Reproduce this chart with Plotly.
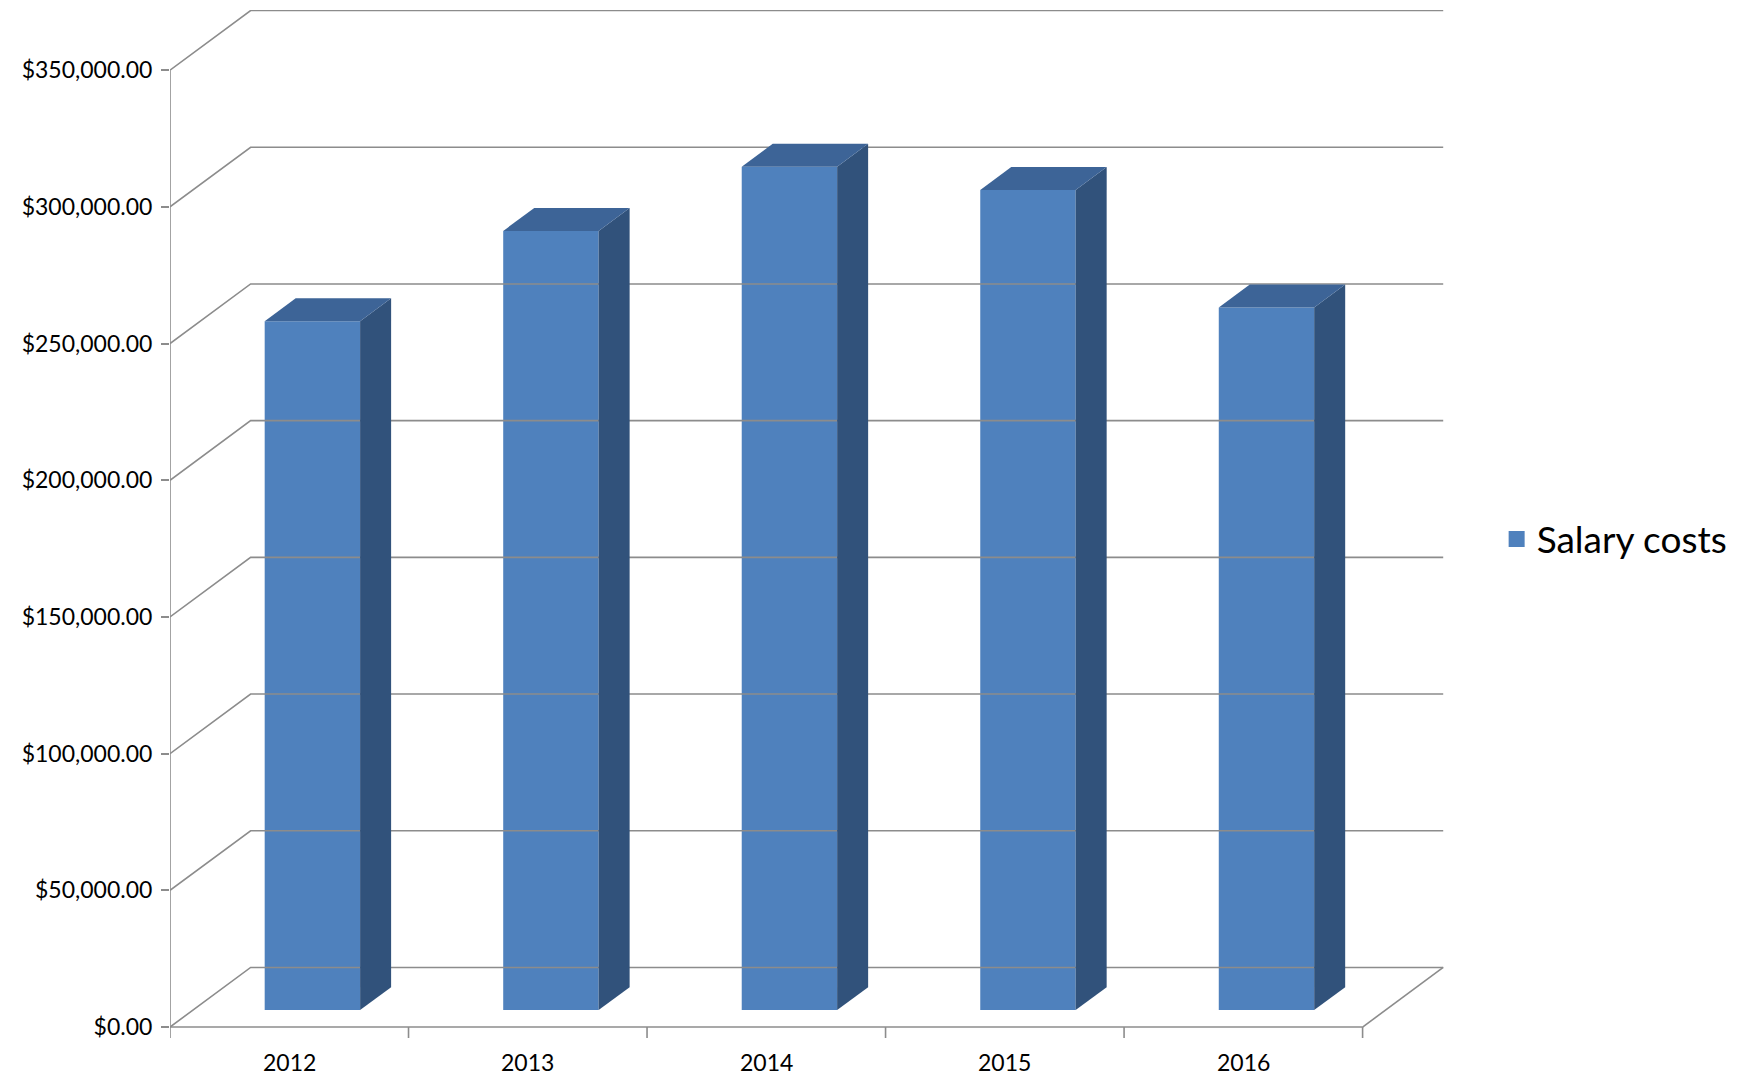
import plotly.graph_objects as go

years = ["2012", "2013", "2014", "2015", "2016"]
salary = [252000, 285000, 308500, 300000, 257000]
tick_vals = [0, 50000, 100000, 150000, 200000, 250000, 300000, 350000]

# oblique 3D look: depth offsets in axis units
DX, DY = 0.338, 21800      # full floor depth
BX, BY = 0.097, 6200       # where bar fronts sit
SX, SY = 0.13, 8400        # bar depth
W = 0.4
grid = "#8c8c8c"

fig = go.Figure()

def line(xs, ys, color=grid, width=1.6):
    fig.add_trace(go.Scatter(x=xs, y=ys, mode="lines", hoverinfo="skip",
                             line=dict(color=color, width=width), showlegend=False))

# back wall gridlines and diagonals
for v in tick_vals:
    line([0, DX, 5 + DX], [v, v + DY, v + DY])
line([5, 5 + DX], [0, DY])
line([0, 5], [0, 0])
line([0, 0], [0, 350000])
for i in range(6):
    line([i, i], [0, -4000])

# bars: front face
xs = [i + BX + 0.5 for i in range(5)]
fig.add_trace(go.Bar(x=xs, y=salary, base=[BY] * 5, width=W,
                     marker=dict(color="#4F81BD", line=dict(width=0)),
                     showlegend=False, hoverinfo="skip"))
for x, v in zip(xs, salary):
    x0, x1, top = x - W / 2, x + W / 2, BY + v
    fig.add_trace(go.Scatter(x=[x1, x1 + SX, x1 + SX, x1, x1], y=[BY, BY + SY, top + SY, top, BY],
                             fill="toself", fillcolor="#31527B", mode="lines", line=dict(width=0),
                             showlegend=False, hoverinfo="skip"))
    fig.add_trace(go.Scatter(x=[x0, x1, x1 + SX, x0 + SX, x0], y=[top, top, top + SY, top + SY, top],
                             fill="toself", fillcolor="#3D6497", mode="lines", line=dict(width=0),
                             showlegend=False, hoverinfo="skip"))

# legend entry
fig.add_trace(go.Scatter(x=[None], y=[None], mode="markers", name="Salary costs",
                         marker=dict(symbol="square", size=26, color="#4F81BD")))

for i, yr in enumerate(years):
    fig.add_annotation(x=i + 0.5, y=-4000, text=yr, showarrow=False, yanchor="top",
                       yshift=-8, font=dict(size=23, color="#000"))

fig.update_layout(
    width=1756, height=1078, plot_bgcolor="white", paper_bgcolor="white",
    margin=dict(l=162, r=306, t=2, b=48),
    font=dict(family="Lato", size=23, color="#000"),
    xaxis=dict(range=[0, 5.4], visible=False),
    yaxis=dict(range=[-4000, 372000], tickvals=tick_vals, tickformat="$,.2f",
               showgrid=False, zeroline=False, ticks="outside", ticklen=8,
               tickcolor=grid, tickwidth=1.6, ticklabelstandoff=4),
    legend=dict(x=1.03, y=0.485, yanchor="middle", font=dict(size=37)),
)
fig.write_html("out.html")
